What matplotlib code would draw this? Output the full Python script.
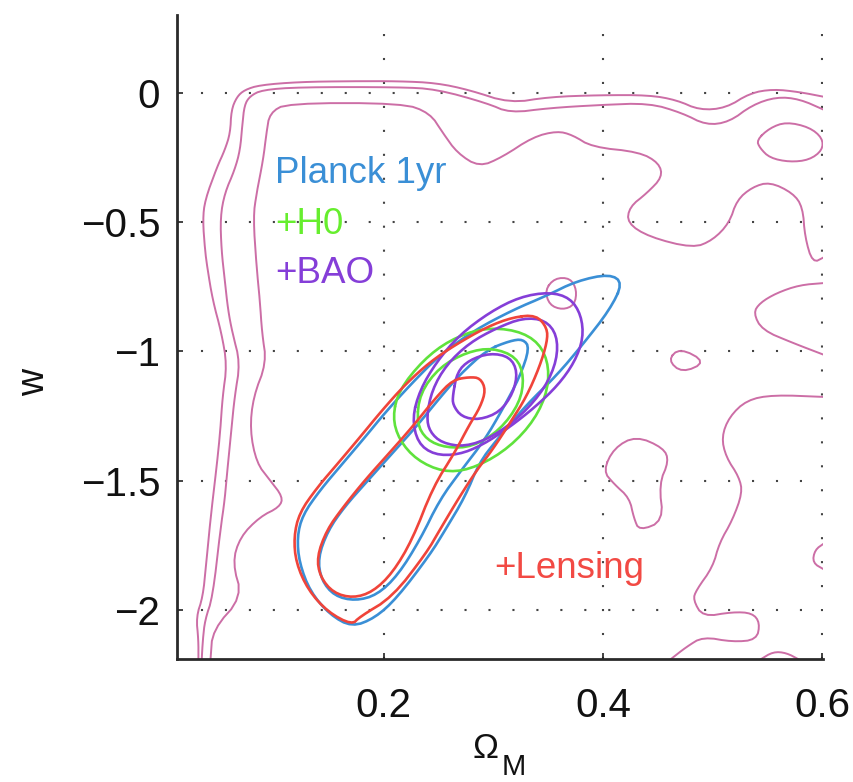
import numpy as np
import matplotlib.pyplot as plt

plt.rcParams['font.family'] = ['Liberation Sans', 'DejaVu Sans']

#================================================
# contour vertices, (Omega_M, w)

# broad posterior, three levels
broad_outer_om = [0.602, 0.579, 0.555, 0.534, 0.512, 0.488, 0.467, 0.442, 0.397, 0.351, 0.315, 0.278,
                  0.248, 0.214, 0.169, 0.123, 0.087, 0.073, 0.066, 0.061, 0.060, 0.055, 0.048, 0.037,
                  0.035, 0.037, 0.039, 0.044, 0.052, 0.057, 0.053, 0.051, 0.048, 0.044, 0.041, 0.038,
                  0.035, 0.029, 0.031, 0.031]
broad_outer_w = [-0.015, 0.004, 0.015, 0.0, -0.058, -0.066, -0.027, -0.008, -0.008, -0.015, -0.039, 0.012,
                 0.039, 0.046, 0.046, 0.043, 0.031, 0.012, -0.015, -0.066, -0.155, -0.221, -0.286, -0.414,
                 -0.491, -0.607, -0.673, -0.801, -0.928, -1.052, -1.176, -1.304, -1.431, -1.574, -1.691, -1.826,
                 -1.950, -2.027, -2.116, -2.193]

broad_mid_om = [0.602, 0.579, 0.558, 0.536, 0.515, 0.494, 0.472, 0.442, 0.397, 0.351, 0.315, 0.294,
                0.248, 0.214, 0.123, 0.089, 0.078, 0.073, 0.071, 0.069, 0.064, 0.055, 0.051, 0.052,
                0.055, 0.058, 0.062, 0.069, 0.064, 0.061, 0.058, 0.055, 0.051, 0.044, 0.037, 0.035, 0.034]
broad_mid_w = [-0.066, -0.023, -0.015, -0.046, -0.112, -0.124, -0.077, -0.039, -0.046, -0.058, -0.077, -0.039,
               0.015, 0.023, 0.023, 0.012, -0.012, -0.046, -0.124, -0.221, -0.298, -0.387, -0.480, -0.607,
               -0.723, -0.839, -0.928, -1.044, -1.176, -1.304, -1.431, -1.574, -1.691, -1.950, -2.039, -2.116, -2.193]

broad_inner_om = [0.602, 0.591, 0.584, 0.582, 0.573, 0.552, 0.536, 0.522, 0.515, 0.500, 0.482, 0.442,
                  0.422, 0.424, 0.440, 0.454, 0.451, 0.433, 0.390, 0.372, 0.358, 0.336, 0.308, 0.287,
                  0.267, 0.254, 0.242, 0.217, 0.112, 0.096, 0.093, 0.090, 0.084, 0.081, 0.084, 0.087,
                  0.089, 0.093, 0.081, 0.078, 0.084, 0.096, 0.108, 0.105, 0.087, 0.069, 0.062, 0.071,
                  0.044, 0.042]
broad_inner_w = [-0.634, -0.658, -0.557, -0.441, -0.387, -0.344, -0.364, -0.414, -0.503, -0.569, -0.600, -0.557,
                 -0.503, -0.441, -0.387, -0.325, -0.271, -0.228, -0.209, -0.162, -0.147, -0.170, -0.248, -0.286,
                 -0.232, -0.155, -0.077, -0.039, -0.039, -0.077, -0.155, -0.259, -0.387, -0.480, -0.673, -0.801,
                 -0.928, -1.044, -1.176, -1.304, -1.431, -1.497, -1.563, -1.602, -1.640, -1.718, -1.818, -1.950,
                 -2.077, -2.193]

# broad posterior, isolated pieces
island_om = [
    [0.540, 0.552, 0.567, 0.588, 0.600, 0.600, 0.588, 0.570, 0.552, 0.543],
    [0.459, 0.470, 0.494, 0.472],
    [0.400, 0.410, 0.430, 0.455, 0.460, 0.451, 0.455, 0.433, 0.428, 0.424, 0.410],
    [0.347, 0.356, 0.370, 0.376, 0.374, 0.363, 0.351],
]
island_w = [
    [-0.182, -0.135, -0.112, -0.132, -0.174, -0.221, -0.259, -0.267, -0.251, -0.213],
    [-1.033, -0.986, -1.041, -1.083],
    [-1.462, -1.373, -1.327, -1.373, -1.424, -1.513, -1.656, -1.694, -1.644, -1.567, -1.513],
    [-0.762, -0.716, -0.716, -0.762, -0.820, -0.839, -0.820],
]
edge_om = [
    [0.602, 0.579, 0.558, 0.543, 0.537, 0.545, 0.573, 0.602],
    [0.602, 0.555, 0.531, 0.515, 0.508, 0.512, 0.524, 0.527, 0.518, 0.506, 0.500, 0.485, 0.482, 0.491,
     0.518, 0.536, 0.543, 0.540, 0.518, 0.491, 0.476, 0.461],
    [0.543, 0.555, 0.567, 0.579],
    [0.602, 0.593, 0.591, 0.602],
]
edge_w = [
    [-0.735, -0.743, -0.774, -0.812, -0.851, -0.917, -0.967, -1.014],
    [-1.176, -1.168, -1.188, -1.253, -1.331, -1.408, -1.486, -1.547, -1.652, -1.741, -1.834, -1.923, -1.961, -2.027,
     -2.008, -2.012, -2.050, -2.116, -2.124, -2.104, -2.143, -2.193],
    [-2.193, -2.162, -2.166, -2.193],
    [-1.741, -1.768, -1.818, -1.845],
]

# Planck 1yr
planck_95_om = [0.418, 0.406, 0.381, 0.358, 0.330, 0.303, 0.287, 0.274, 0.256, 0.242, 0.212, 0.192, 0.171,
                0.151, 0.133, 0.123, 0.121, 0.126, 0.142, 0.163, 0.183, 0.201, 0.224, 0.251, 0.283, 0.318,
                0.348, 0.376, 0.406]
planck_95_w = [-0.735, -0.839, -0.975, -1.091, -1.207, -1.342, -1.431, -1.563, -1.691, -1.787, -1.954, -2.031, -2.066,
               -2.019, -1.930, -1.818, -1.718, -1.633, -1.536, -1.431, -1.331, -1.238, -1.130, -1.014, -0.917, -0.839,
               -0.785, -0.727, -0.700]
planck_68_om = [0.294, 0.315, 0.327, 0.333, 0.324, 0.308, 0.292, 0.271, 0.251, 0.233, 0.213, 0.194, 0.174,
                0.155, 0.143, 0.140, 0.149, 0.164, 0.186, 0.208, 0.231, 0.251, 0.269]
planck_68_w = [-0.994, -0.959, -0.952, -0.986, -1.099, -1.226, -1.342, -1.458, -1.574, -1.729, -1.865, -1.942, -1.965,
               -1.946, -1.884, -1.799, -1.694, -1.602, -1.497, -1.393, -1.284, -1.180, -1.091]

# +H0
h0_95_om = [0.208, 0.214, 0.236, 0.260, 0.290, 0.321, 0.342, 0.351, 0.348, 0.333, 0.308, 0.278, 0.254, 0.230, 0.214]
h0_95_w = [-1.253, -1.149, -1.033, -0.956, -0.909, -0.917, -0.967, -1.060, -1.176, -1.292, -1.393, -1.458, -1.466,
           -1.420, -1.342]
h0_68_om = [0.230, 0.233, 0.251, 0.276, 0.299, 0.321, 0.328, 0.324, 0.306, 0.281, 0.257, 0.239]
h0_68_w = [-1.277, -1.161, -1.060, -1.002, -0.986, -1.021, -1.099, -1.199, -1.304, -1.369, -1.373, -1.342]

# +BAO
bao_99_om = [0.226, 0.233, 0.248, 0.269, 0.297, 0.324, 0.351, 0.370, 0.380, 0.382, 0.374, 0.359, 0.338, 0.315,
             0.290, 0.268, 0.246, 0.231]
bao_99_w = [-1.257, -1.149, -1.041, -0.936, -0.847, -0.789, -0.770, -0.793, -0.859, -0.948, -1.041, -1.130, -1.215,
            -1.292, -1.362, -1.400, -1.400, -1.354]
bao_95_om = [0.239, 0.244, 0.257, 0.278, 0.303, 0.327, 0.347, 0.358, 0.358, 0.347, 0.326, 0.299, 0.274, 0.253, 0.242]
bao_95_w = [-1.253, -1.149, -1.052, -0.967, -0.909, -0.870, -0.878, -0.936, -1.033, -1.141, -1.246, -1.331, -1.369,
            -1.354, -1.311]
bao_68_om = [0.263, 0.267, 0.278, 0.297, 0.315, 0.322, 0.318, 0.306, 0.287, 0.271, 0.263]
bao_68_w = [-1.168, -1.079, -1.033, -1.006, -1.021, -1.079, -1.161, -1.234, -1.265, -1.253, -1.207]

# +Lensing
lens_95_om = [0.318, 0.339, 0.349, 0.349, 0.342, 0.330, 0.315, 0.299, 0.285, 0.269, 0.251, 0.239, 0.208, 0.178,
              0.171, 0.149, 0.131, 0.120, 0.118, 0.123, 0.139, 0.160, 0.180, 0.198, 0.219, 0.242, 0.265, 0.294]
lens_95_w = [-0.867, -0.859, -0.909, -0.963, -1.060, -1.176, -1.277, -1.381, -1.458, -1.563, -1.691, -1.779, -1.950,
             -2.027, -2.058, -2.008, -1.923, -1.818, -1.718, -1.625, -1.528, -1.424, -1.323, -1.230, -1.130, -1.041,
             -0.975, -0.905]
lens_68_om = [0.263, 0.278, 0.288, 0.293, 0.288, 0.278, 0.265, 0.245, 0.226, 0.208, 0.190, 0.172, 0.154, 0.142,
              0.139, 0.148, 0.163, 0.183, 0.205, 0.226, 0.248]
lens_68_w = [-1.110, -1.099, -1.103, -1.149, -1.215, -1.284, -1.389, -1.524, -1.729, -1.857, -1.930, -1.954, -1.934,
             -1.872, -1.795, -1.691, -1.602, -1.497, -1.393, -1.292, -1.176]

labels = ['Planck 1yr', '+H0', '+BAO', '+Lensing']
label_om = [0.101, 0.101, 0.101, 0.301]
label_w = [-0.31, -0.51, -0.70, -1.84]

c_broad = '#cc6ea6'
c_planck = '#3a8fd6'
c_h0 = '#5fe23c'
c_bao = '#853ed8'
c_lens = '#f0443a'
label_colors = [c_planck, '#66ee2e', c_bao, '#f24a44']


#================================================
def smooth(x, y, closed, n_iter=2):
       #corner cutting so the polygons look like contour lines
       x = np.asarray(x, float)
       y = np.asarray(y, float)
       for _ in range(n_iter):
              if closed:
                     x2, y2 = np.roll(x, -1), np.roll(y, -1)
              else:
                     x2, y2, x, y = x[1:], y[1:], x[:-1], y[:-1]
              qx, qy = 0.75 * x + 0.25 * x2, 0.75 * y + 0.25 * y2
              rx, ry = 0.25 * x + 0.75 * x2, 0.25 * y + 0.75 * y2
              nx = np.column_stack([qx, rx]).ravel()
              ny = np.column_stack([qy, ry]).ravel()
              if not closed:
                     nx = np.concatenate([[x[0]], nx, [x2[-1]]])
                     ny = np.concatenate([[y[0]], ny, [y2[-1]]])
              x, y = nx, ny
       if closed:
              x = np.append(x, x[0])
              y = np.append(y, y[0])
       return x, y


def draw(ax, om, w, color, lw, closed=True):
       x, y = smooth(om, w, closed)
       ax.plot(x, y, color=color, lw=lw, solid_joinstyle='round', solid_capstyle='round')


#================================================
fig = plt.figure(figsize=(8.54, 7.82), dpi=100)
ax = fig.add_axes([0.2073, 0.1573, 0.7564, 0.8235])

#broad contours
for om, w in [(broad_outer_om, broad_outer_w), (broad_mid_om, broad_mid_w), (broad_inner_om, broad_inner_w)]:
       draw(ax, om, w, c_broad, 1.4, closed=False)
for om, w in zip(edge_om, edge_w):
       draw(ax, om, w, c_broad, 1.4, closed=False)
for om, w in zip(island_om, island_w):
       draw(ax, om, w, c_broad, 1.4)

#data combinations
lw_c = 1.9
draw(ax, planck_95_om, planck_95_w, c_planck, lw_c)
draw(ax, planck_68_om, planck_68_w, c_planck, lw_c)
draw(ax, h0_95_om, h0_95_w, c_h0, lw_c)
draw(ax, h0_68_om, h0_68_w, c_h0, lw_c)
draw(ax, bao_99_om, bao_99_w, c_bao, lw_c)
draw(ax, bao_95_om, bao_95_w, c_bao, lw_c)
draw(ax, bao_68_om, bao_68_w, c_bao, lw_c)
draw(ax, lens_95_om, lens_95_w, c_lens, lw_c)
draw(ax, lens_68_om, lens_68_w, c_lens, lw_c)

for txt, x, y, col in zip(labels, label_om, label_w, label_colors):
       ax.text(x, y, txt, color=col, fontsize=26.5, ha='left', va='center', zorder=5)

#axes
ax.set_xlim(0.0115, 0.6005)
ax.set_ylim(-2.19, 0.302)
ax.set_xticks([0.2, 0.4, 0.6])
ax.set_xticklabels(['0.2', '0.4', '0.6'])
ax.set_yticks([0, -0.5, -1, -1.5, -2])
ax.set_yticklabels(['0', '\u22120.5', '\u22121', '\u22121.5', '\u22122'])
ax.tick_params(direction='in', length=4, width=1.2, labelsize=29, color='#222222', labelcolor='#111111')
ax.tick_params(axis='x', pad=20)
ax.tick_params(axis='y', pad=12)

for side in ['top', 'right']:
       ax.spines[side].set_visible(False)
for side in ['left', 'bottom']:
       ax.spines[side].set_linewidth(2.0)
       ax.spines[side].set_color('#2a2a2a')

ax.grid(True, color='#444444', lw=1.5, linestyle=(0, (1, 10.5)))
ax.set_axisbelow(True)

#add axis label, subscript drawn as its own text
ax.set_xlabel('\u03a9', fontsize=25, color='#111111')
ax.xaxis.set_label_coords(0.478, -0.114)
ax.xaxis.label.set_va('top')
ax.text(0.522, -0.146, 'M', transform=ax.transAxes, fontsize=21, color='#111111',
        ha='center', va='top')
ax.set_ylabel('w', fontsize=27, color='#111111')
ax.yaxis.set_label_coords(-0.222, 0.43)
ax.yaxis.label.set_va('center')

plt.savefig('out.png', dpi=100)
